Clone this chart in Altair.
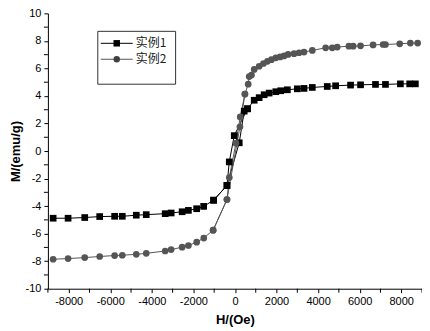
import altair as alt
import pandas as pd

# Sample 1 (squares) - descending branch (from +H to -H)
h1 = [8680, 8408, 7961, 7242, 6762, 6043, 5563, 4844, 4441, 3721, 3323, 3002, 2522, 2206,
      1966, 1645, 1405, 1165, 926, 604, -34, -273, -384, -1026, -1506, -1842, -2240, -2542,
      -3070, -3357, -4268, -4748, -5420, -5789, -6508, -7228, -8029, -8748]
m1 = [4.88, 4.88, 4.88, 4.84, 4.84, 4.81, 4.79, 4.74, 4.69, 4.62, 4.55, 4.52, 4.45, 4.38,
      4.31, 4.21, 4.09, 3.88, 3.69, 3.07, 1.12, -0.79, -2.5, -3.57, -4.02, -4.19, -4.31, -4.41,
      -4.5, -4.55, -4.62, -4.66, -4.74, -4.74, -4.76, -4.83, -4.88, -4.88]
# Sample 1 - ascending branch near the origin
h1u = [-1026, -384, 206, 446, 604]
m1u = [-3.57, -2.5, 0.6, 2.9, 3.07]

# Sample 2 (circles) - descending branch
h2 = [8791, 8440, 7928, 7242, 7127, 6647, 6043, 5688, 5482, 4921, 4681, 4364, 3722, 3324,
      3084, 2844, 2556, 2364, 2173, 1966, 1755, 1563, 1372, 1165, 926, 797, 686, 638, 480,
      254, 48, -273, -384, -1050, -1500, -1842, -2240, -2542, -3070, -3357, -4268, -4748,
      -5420, -5789, -6508, -7228, -8029, -8748]
m2 = [7.84, 7.84, 7.79, 7.74, 7.74, 7.71, 7.64, 7.62, 7.62, 7.55, 7.5, 7.5, 7.31, 7.19,
      7.14, 7.07, 7.02, 6.91, 6.84, 6.77, 6.64, 6.52, 6.36, 6.16, 5.93, 5.52, 5.41, 4.86, 4.14,
      2.48, 0.57, -1.93, -3.52, -5.75, -6.32, -6.62, -6.86, -6.98, -7.16, -7.26, -7.43, -7.5,
      -7.57, -7.59, -7.66, -7.74, -7.81, -7.86]
# Sample 2 - ascending branch near the origin
h2u = [-1050, -384, 240, 480]
m2u = [-5.75, -3.52, 1.76, 4.14]

# Axis ticks
x_major = [-8000, -6000, -4000, -2000, 0, 2000, 4000, 6000, 8000]
x_minor = [-9000, -7000, -5000, -3000, -1000, 1000, 3000, 5000, 7000, 9000]
y_major = [-10, -8, -6, -4, -2, 0, 2, 4, 6, 8, 10]
y_minor = [-9, -7, -5, -3, -1, 1, 3, 5, 7, 9]

names = ["实例1", "实例2"]
line_colors = ["#000000", "#555555"]
fill_colors = ["#000000", "#404040"]
shapes = ["square", "circle"]

rows = []
for name, branch, hs, ms in [
    (names[0], "a", h1, m1), (names[0], "b", h1u, m1u),
    (names[1], "c", h2, m2), (names[1], "d", h2u, m2u),
]:
    for i, (h, m) in enumerate(zip(hs, ms)):
        rows.append({"H": h, "M": m, "series": name, "branch": branch, "idx": i})
df = pd.DataFrame(rows)

FONT = "Liberation Sans"

xscale = alt.Scale(domain=[-9000, 9000], nice=False)
yscale = alt.Scale(domain=[-10, 10], nice=False)

xaxis = alt.Axis(
    title="H/(Oe)",
    values=x_major,
    labelExpr="'' + datum.value",
    labelOverlap=False, labelBound=False, labelFlush=False,
    grid=False, tickSize=4, labelPadding=3, titlePadding=7,
)
yaxis = alt.Axis(
    title="M/(emu/g)",
    values=y_major,
    labelExpr="'' + datum.value",
    labelOverlap=False, labelBound=False, labelFlush=False,
    grid=False, tickSize=4, labelPadding=3, titlePadding=3,
)

base = alt.Chart(df)

lines = base.mark_line(strokeWidth=1).encode(
    x=alt.X("H:Q", scale=xscale, axis=xaxis),
    y=alt.Y("M:Q", scale=yscale, axis=yaxis),
    color=alt.Color("series:N", scale=alt.Scale(domain=names, range=line_colors), legend=None),
    detail="branch:N",
    order="idx:Q",
)

points = base.mark_point(filled=True, size=45, opacity=1).encode(
    x=alt.X("H:Q", scale=xscale, axis=xaxis),
    y=alt.Y("M:Q", scale=yscale, axis=yaxis),
    color=alt.Color("series:N", scale=alt.Scale(domain=names, range=fill_colors), legend=None),
    shape=alt.Shape("series:N", scale=alt.Scale(domain=names, range=shapes), legend=None),
)

# Minor ticks drawn through the scales
xminor_df = pd.DataFrame({"H": x_minor})
yminor_df = pd.DataFrame({"M": y_minor})
xminor = alt.Chart(xminor_df).mark_rule(color="black", strokeWidth=1).encode(
    x=alt.X("H:Q", scale=xscale, axis=xaxis),
    y=alt.value(276), y2=alt.value(280),
)
yminor = alt.Chart(yminor_df).mark_rule(color="black", strokeWidth=1).encode(
    y=alt.Y("M:Q", scale=yscale, axis=yaxis),
    x=alt.value(-4), x2=alt.value(0),
)

# Manual legend (box, line + symbol, label)
one = pd.DataFrame({"k": [0]})
legend_box = alt.Chart(one).mark_rect(fill="white", stroke="#333333", strokeWidth=1).encode(
    x=alt.value(50), x2=alt.value(128), y=alt.value(18), y2=alt.value(71)
)
legend_layers = [legend_box]
for i, name in enumerate(names):
    yy = 30 + 16 * i
    legend_layers.append(
        alt.Chart(one).mark_rule(color=line_colors[i], strokeWidth=1).encode(
            x=alt.value(53), x2=alt.value(85), y=alt.value(yy)
        )
    )
    legend_layers.append(
        alt.Chart(one).mark_point(filled=True, size=42, opacity=1, shape=shapes[i],
                                  color=fill_colors[i]).encode(
            x=alt.value(69), y=alt.value(yy)
        )
    )
    legend_layers.append(
        alt.Chart(one).mark_text(align="left", baseline="middle", font="Noto Sans CJK SC",
                                 fontSize=12, color="#222222").encode(
            x=alt.value(88), y=alt.value(yy), text=alt.value(name)
        )
    )

chart = alt.layer(lines, points, xminor, yminor, *legend_layers).properties(
    width=375, height=276,
    autosize=alt.AutoSizeParams(type="none"),
    padding={"left": 40, "top": 5, "right": 0, "bottom": 40},
).configure_view(stroke=None).configure_axis(
    domainColor="black", tickColor="black", labelColor="black", titleColor="black",
    labelFont=FONT, labelFontSize=11, titleFont=FONT, titleFontSize=13, titleFontWeight="bold",
    domainWidth=1, tickWidth=1, labelOverlap=False,
)

chart.save("out.html", embed_options={"renderer": "svg", "actions": False})
